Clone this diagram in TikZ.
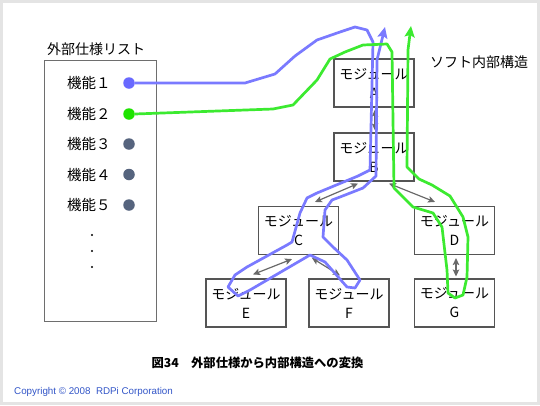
\documentclass[tikz,border=0pt]{standalone}
\usepackage{fontspec}
\setmainfont{Noto Sans CJK JP}
\newfontfamily\copyfont{Liberation Sans}
\usetikzlibrary{arrows.meta,calc}
\definecolor{framegray}{RGB}{228,228,228}
\definecolor{boxgray}{RGB}{110,110,110}
\definecolor{modgray}{RGB}{85,85,85}
\definecolor{arrgray}{RGB}{105,105,105}
\definecolor{pathblue}{RGB}{122,122,255}
\definecolor{dotblue}{RGB}{105,105,255}
\definecolor{pathgreen}{RGB}{60,234,48}
\definecolor{dotgreen}{RGB}{30,228,0}
\definecolor{dotgray}{RGB}{86,100,126}
\definecolor{copyblue}{RGB}{50,85,200}
\tikzset{
  module/.style={draw=modgray, line width=1.1pt, fill=white, minimum width=80pt,
    minimum height=48pt, inner sep=0pt, align=center, font=\fontsize{14}{19}\selectfont},
  item/.style={anchor=west, inner sep=0pt, font=\fontsize{14.5}{16}\selectfont},
  fdot/.style={circle, inner sep=0pt, minimum size=11.5pt},
  vdot/.style={circle, fill=black, inner sep=0pt, minimum size=2.4pt},
  link/.style={draw=arrgray, line width=1.2pt, {Stealth[length=7pt,width=6.5pt,inset=1.5pt]}-{Stealth[length=7pt,width=6.5pt,inset=1.5pt]}},
  flow/.style={line width=2.7pt, line join=round, -{Stealth[length=11pt,width=10pt,inset=2pt]}},
  label/.style={inner sep=0pt, font=\fontsize{14}{16}\selectfont}
}
\begin{document}
\begin{tikzpicture}[x=1pt,y=-1pt]
\useasboundingbox (0,0) rectangle (540,405);
\fill[framegray] (0,0) rectangle (540,405);
\fill[white] (3,3) rectangle (537,402);

% external spec list
\node[label, anchor=west] (title) at (47,49) {外部仕様リスト};
\draw[boxgray, line width=0.9pt] (44,60) rectangle (156,321);
\node[item] (k1) at (67,83) {機能１};
\node[item] (k2) at (67,114) {機能２};
\node[item] (k3) at (67,144) {機能３};
\node[item] (k4) at (67,174.5) {機能４};
\node[item] (k5) at (67,205) {機能５};
\node[vdot] (v1) at (92,235) {};
\node[vdot] (v2) at (92,251) {};
\node[vdot] (v3) at (92,267) {};

% modules
\node[module] (A) at (374,83) {モジュール\\A};
\node[module] (B) at (374,157) {モジュール\\B};
\node[module] (C) at (298.5,230.5) {モジュール\\C};
\node[module] (D) at (454.5,230.5) {モジュール\\D};
\node[module] (E) at (246,303) {モジュール\\E};
\node[module] (F) at (349,303) {モジュール\\F};
\node[module] (G) at (454.5,303) {モジュール\\G};
\node[label, anchor=west] (soft) at (430,62) {ソフト内部構造};

% links
\draw[link] ($(A.south)+(1,2)$) -- ($(B.north)+(1,-2)$);
\draw[link] ($(B.south)+(-16,2)$) -- ($(C.north)+(16.5,-4)$);
\draw[link] ($(B.south)+(15,2)$) -- ($(D.north)+(-19.5,-4)$);
\draw[link] ($(C.south)+(-6.5,4)$) -- ($(E.north)+(7,-4)$);
\draw[link] ($(C.south)+(13.5,3)$) -- ($(F.north)+(-9,-3)$);
\draw[link] ($(D.south)+(1.5,3)$) -- ($(G.north)+(1.5,-2)$);

% dots
\node[fdot, fill=dotblue] (d1) at (129,83) {};
\node[fdot, fill=dotgreen] (d2) at (129,114) {};
\node[fdot, fill=dotgray] (d3) at (129,144) {};
\node[fdot, fill=dotgray] (d4) at (129,174.5) {};
\node[fdot, fill=dotgray] (d5) at (129,205) {};

\coordinate (bluetip) at (385,27);
\coordinate (greentip) at (411,26);

% blue flow
\draw[flow, pathblue] (d1.east) -- (245,83) -- (275,74) -- (295,56) -- (317,40) -- (340,32)
  -- (355,27) -- (367,30) -- (373,42) -- (370,170) -- (358,176) -- (317,193) -- (307,198)
  -- (300,213) -- (292,242) -- (287,245) -- (247,267) -- (235,275) -- (228,287) -- (238,296)
  -- (250,290) -- (310,255) -- (325,262) -- (347,287) -- (355,288) -- (360,280) -- (347,260)
  -- (333,247) -- (323,237) -- (325,210) -- (332,200) -- (340,197) -- (363,188) -- (376,176)
  -- (377,60) -- (bluetip);

% green flow
\draw[flow, pathgreen] (d2.east) -- (273,109) -- (293,105) -- (317,80) -- (330,59) -- (345,52)
  -- (363,45) -- (387,44) -- (392,52) -- (394,188) -- (413,207) -- (433,213) -- (442,227)
  -- (447,270) -- (448,293) -- (455,298) -- (463,295) -- (467,277) -- (468,237) -- (463,217)
  -- (450,196) -- (432,185) -- (419,179) -- (407,167) -- (408,50) -- (greentip);

% caption
\node[inner sep=0pt, font=\fontsize{12.3}{14}\selectfont\bfseries] (cap) at (257.5,363) {図34　外部仕様から内部構造への変換};
\node[inner sep=0pt, anchor=west, text=copyblue, font=\copyfont\fontsize{9.8}{11}\selectfont] (copy) at (14,392) {Copyright © 2008\ \ RDPi Corporation};
\end{tikzpicture}
\end{document}
